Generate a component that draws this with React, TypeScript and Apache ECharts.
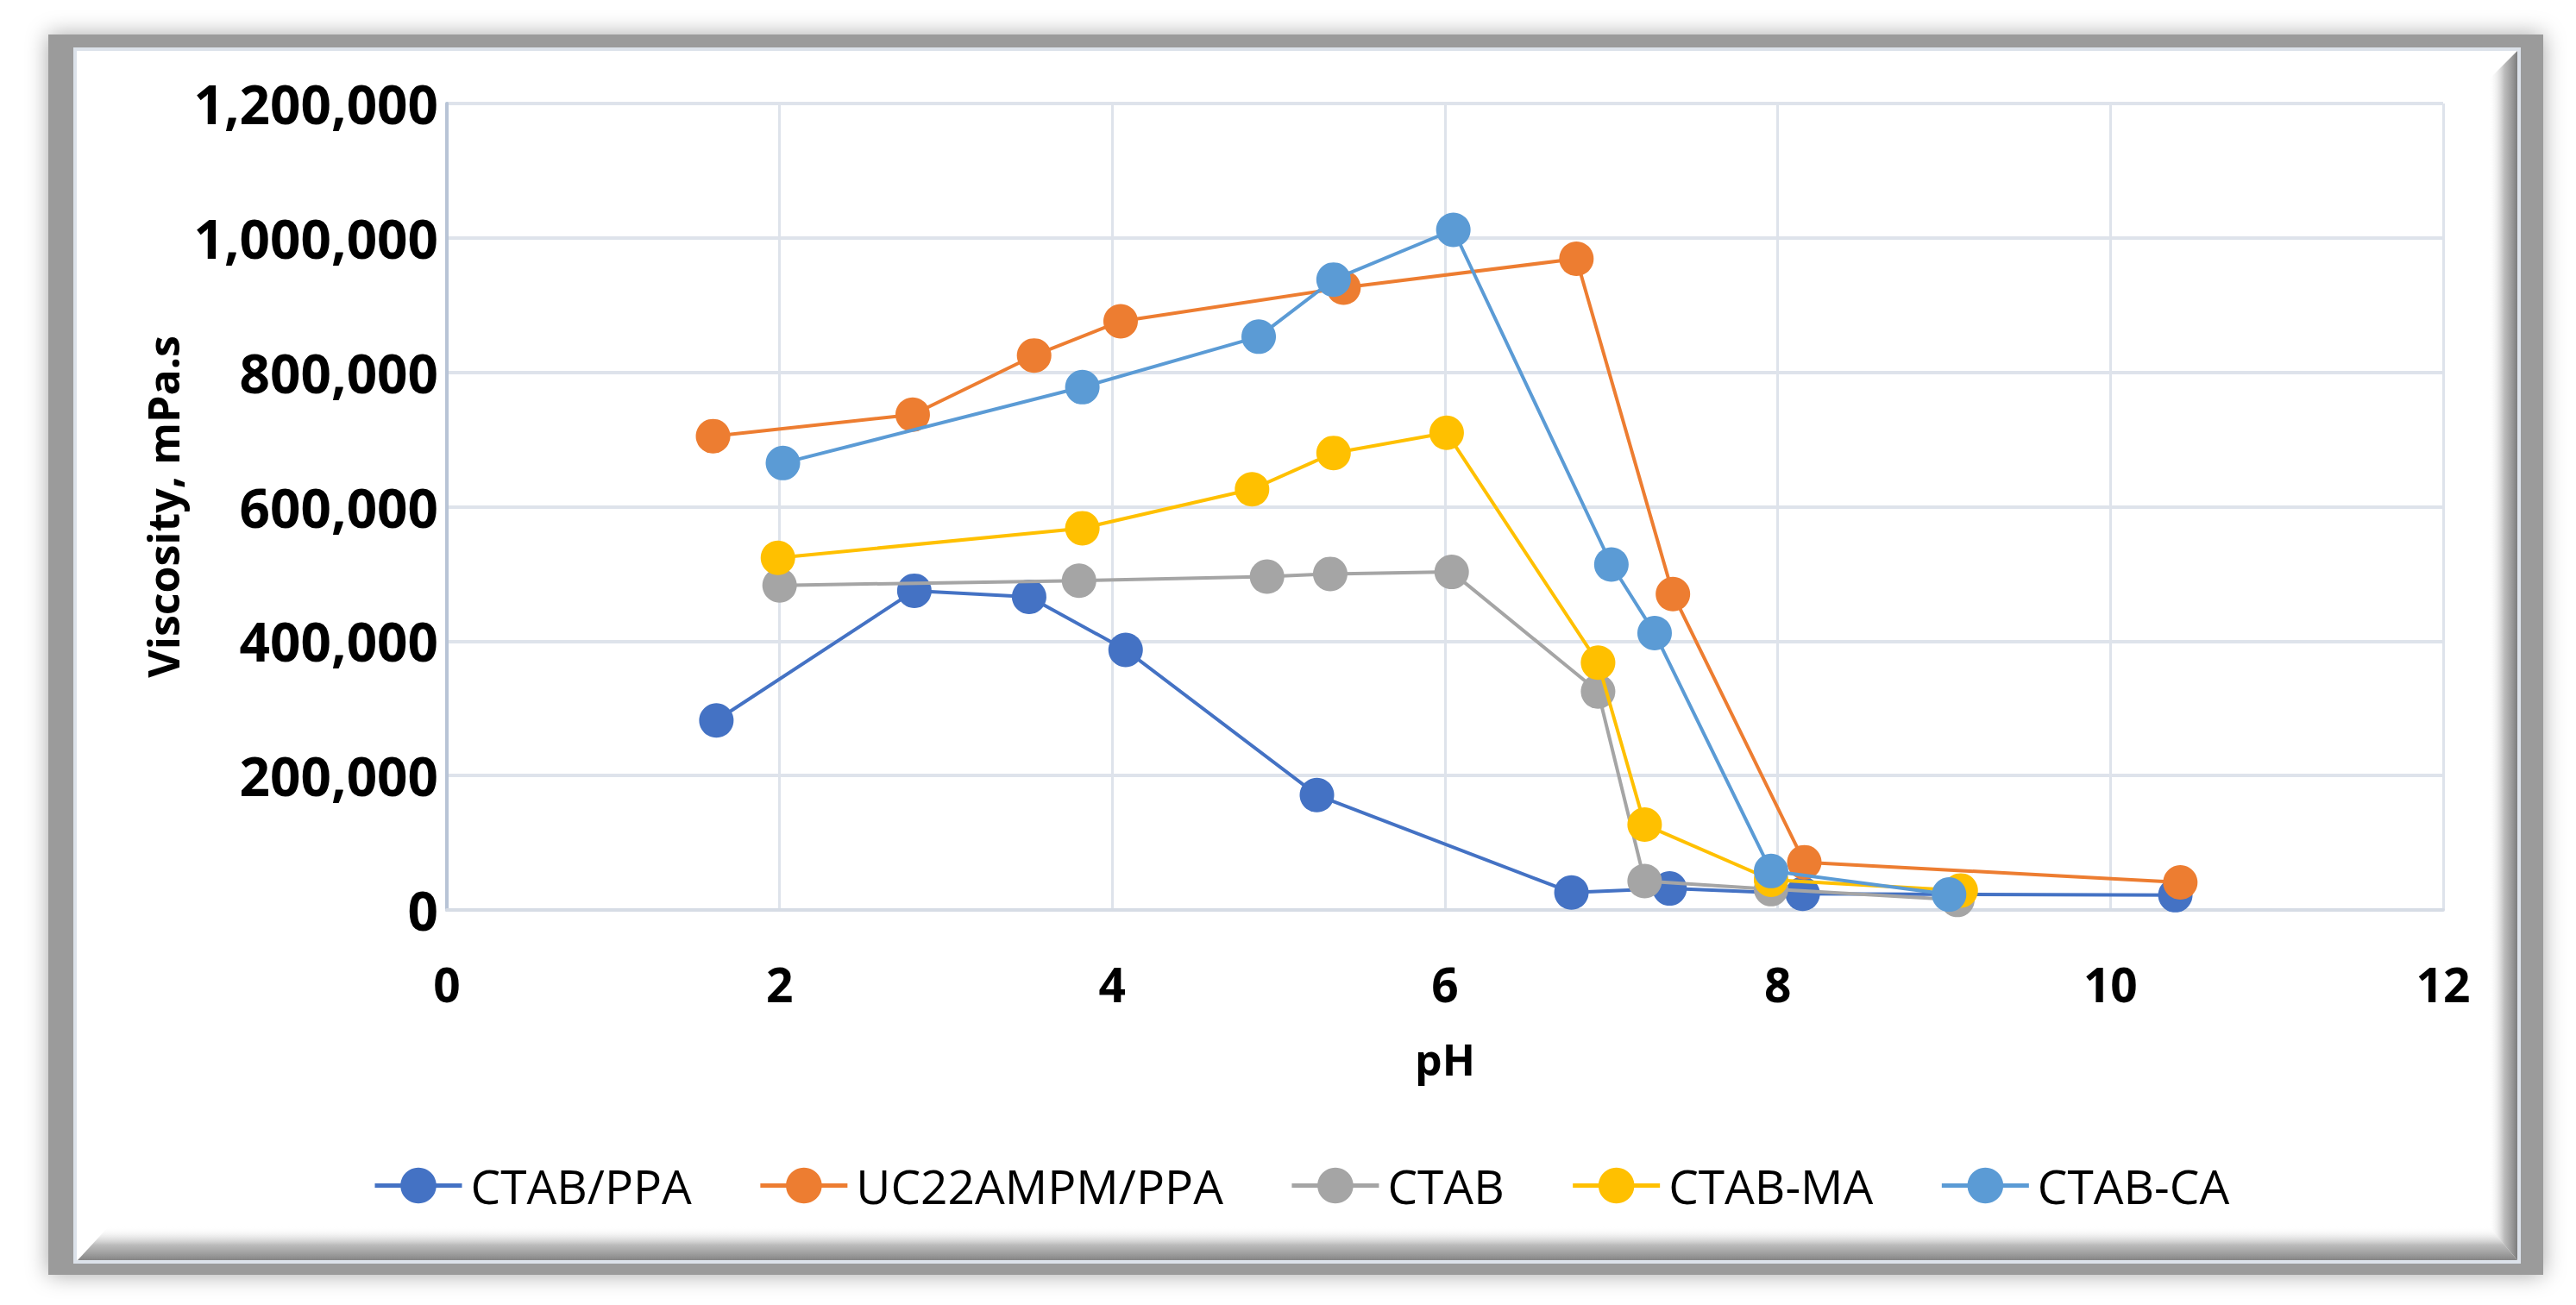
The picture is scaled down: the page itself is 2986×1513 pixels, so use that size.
import React, { useEffect, useRef } from "react";
import * as echarts from "echarts";

const seriesNames = ["CTAB/PPA", "UC22AMPM/PPA", "CTAB", "CTAB-MA", "CTAB-CA"];
const seriesColors = ["#4472C4", "#ED7D31", "#A5A5A5", "#FFC000", "#5B9BD5"];

const ctabPpaPH = [1.62, 2.81, 3.5, 4.08, 5.23, 6.76, 7.35, 8.15, 10.39];
const ctabPpaVisc = [282000, 475000, 466000, 387000, 171000, 26000, 32000, 24000, 22000];

const uc22PH = [1.6, 2.8, 3.53, 4.05, 5.39, 6.79, 7.37, 8.16, 10.42];
const uc22Visc = [705000, 737000, 825000, 876000, 926000, 969000, 470000, 71000, 41000];

const ctabPH = [2.0, 3.8, 4.93, 5.31, 6.04, 6.92, 7.2, 7.96, 9.08];
const ctabVisc = [483000, 490000, 496000, 500000, 503000, 325000, 43000, 31000, 15000];

const ctabMaPH = [1.99, 3.82, 4.84, 5.33, 6.01, 6.92, 7.2, 7.96, 9.1];
const ctabMaVisc = [524000, 568000, 626000, 680000, 710000, 368000, 127000, 45000, 29000];

const ctabCaPH = [2.02, 3.82, 4.88, 5.33, 6.05, 7.0, 7.26, 7.96, 9.03];
const ctabCaVisc = [665000, 778000, 853000, 938000, 1012000, 514000, 412000, 58000, 23000];

const xMin = 0;
const xMax = 12;
const xStep = 2;
const yMin = 0;
const yMax = 1200000;
const yStep = 200000;

const xTitle = "pH";
const yTitle = "Viscosity, mPa.s";

const allPH = [ctabPpaPH, uc22PH, ctabPH, ctabMaPH, ctabCaPH];
const allVisc = [ctabPpaVisc, uc22Visc, ctabVisc, ctabMaVisc, ctabCaVisc];

const FONT = "'Open Sans', 'Noto Sans', 'DejaVu Sans', sans-serif";

export default function App() {
  const ref = useRef<HTMLDivElement>(null);

  useEffect(() => {
    document.body.style.margin = "0";
    if (!ref.current) return;
    const chart = echarts.init(ref.current, null, { renderer: "svg" });

    const series = seriesNames.map((name, i) => ({
      name,
      type: "line",
      data: allPH[i].map((x, j) => [x, allVisc[i][j]]),
      symbol: "circle",
      symbolSize: 40,
      lineStyle: { color: seriesColors[i], width: 4 },
      itemStyle: { color: seriesColors[i] },
      emphasis: { disabled: true },
      z: 2 + i * 0.01,
    }));

    const option = {
      animation: false,
      backgroundColor: "#ffffff",
      textStyle: { fontFamily: FONT },
      graphic: [
        {
          type: "rect",
          z: -20,
          silent: true,
          shape: { x: 56, y: 40, width: 2892, height: 1438 },
          style: {
            fill: "#9b9b9b",
            shadowBlur: 26,
            shadowColor: "rgba(0,0,0,0.35)",
          },
        },
        {
          type: "rect",
          z: -19,
          silent: true,
          shape: { x: 87, y: 57, width: 2833, height: 1406 },
          style: { fill: "#ffffff", stroke: "#DCE2EA", lineWidth: 4 },
        },
        {
          type: "polygon",
          z: -18,
          silent: true,
          shape: {
            points: [
              [90, 1461],
              [126, 1422],
              [2885, 1422],
              [2918, 1461],
            ],
          },
          style: {
            fill: new echarts.graphic.LinearGradient(0, 0, 0, 1, [
              { offset: 0, color: "rgba(255,255,255,0)" },
              { offset: 0.55, color: "rgba(170,170,170,0.8)" },
              { offset: 1, color: "#858585" },
            ]),
          },
        },
        {
          type: "polygon",
          z: -18,
          silent: true,
          shape: {
            points: [
              [2918, 59],
              [2918, 1461],
              [2885, 1422],
              [2885, 92],
            ],
          },
          style: {
            fill: new echarts.graphic.LinearGradient(0, 0, 1, 0, [
              { offset: 0, color: "rgba(255,255,255,0)" },
              { offset: 0.55, color: "rgba(170,170,170,0.8)" },
              { offset: 1, color: "#7d7d7d" },
            ]),
          },
        },
      ],
      grid: { left: 518, right: 154, top: 120, bottom: 458 },
      legend: {
        data: seriesNames,
        left: 427,
        top: 1342,
        itemWidth: 101,
        itemHeight: 52,
        itemGap: 77,
        lineStyle: { width: 5 },
        textStyle: {
          fontFamily: FONT,
          fontSize: 55,
          color: "#000000",
          padding: [0, 0, 0, 5],
        },
      },
      xAxis: {
        type: "value",
        min: xMin,
        max: xMax,
        interval: xStep,
        name: xTitle,
        nameLocation: "middle",
        nameGap: 148,
        nameTextStyle: {
          fontFamily: FONT,
          fontSize: 50,
          fontWeight: "bold",
          color: "#000000",
        },
        axisLine: { show: true, lineStyle: { color: "#D6DCE5", width: 4 } },
        axisTick: { show: false },
        axisLabel: {
          margin: 58,
          fontFamily: FONT,
          fontSize: 55,
          fontWeight: "bold",
          color: "#000000",
        },
        splitLine: { show: true, lineStyle: { color: "#DEE3EB", width: 3 } },
      },
      yAxis: {
        type: "value",
        min: yMin,
        max: yMax,
        interval: yStep,
        name: yTitle,
        nameLocation: "middle",
        nameGap: 285,
        nameTextStyle: {
          fontFamily: FONT,
          fontSize: 50,
          fontWeight: "bold",
          color: "#000000",
        },
        axisLine: { show: true, lineStyle: { color: "#B8C4D6", width: 4 } },
        axisTick: { show: false },
        axisLabel: {
          margin: 10,
          fontFamily: FONT,
          fontSize: 62,
          fontWeight: "bold",
          color: "#000000",
          formatter: (v: number) => v.toLocaleString("en-US"),
        },
        splitLine: { show: true, lineStyle: { color: "#DEE3EB", width: 4 } },
      },
      series,
    };

    chart.setOption(option as any);
    return () => chart.dispose();
  }, []);

  return (
    <div
      ref={ref}
      style={{ position: "fixed", left: 0, top: 0, width: 2986, height: 1513 }}
    />
  );
}
